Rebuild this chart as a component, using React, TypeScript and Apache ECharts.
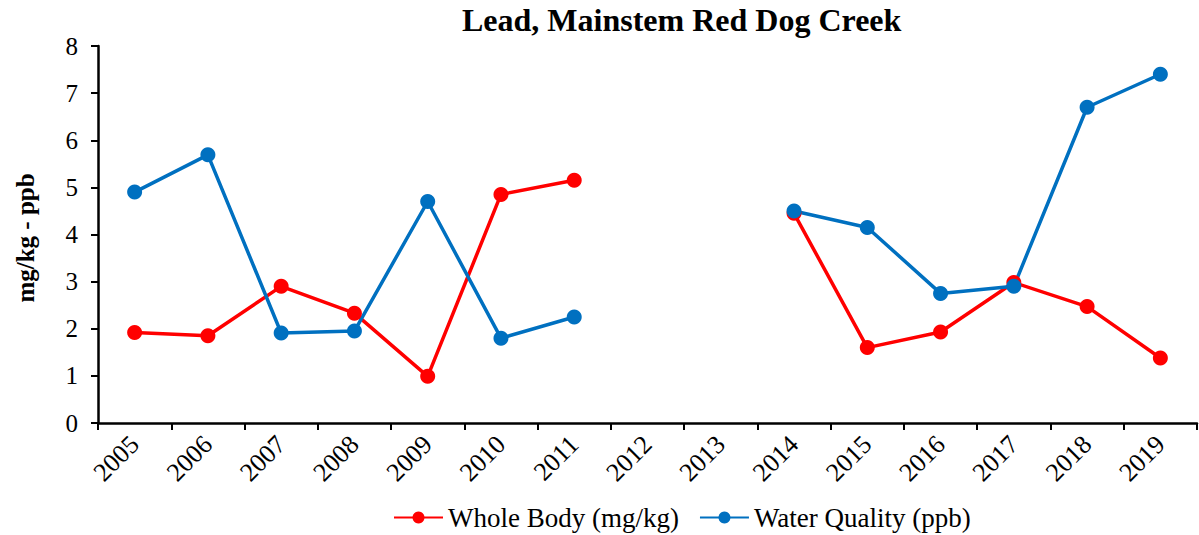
import React, { useEffect, useRef } from "react";
import * as echarts from "echarts";

const years = ["2005", "2006", "2007", "2008", "2009", "2010", "2011", "2012", "2013", "2014", "2015", "2016", "2017", "2018", "2019"];
const wholeBody = [1.92, 1.85, 2.9, 2.33, 0.99, 4.85, 5.15, null, null, 4.45, 1.6, 1.93, 2.98, 2.47, 1.38];
const waterQuality = [4.9, 5.69, 1.91, 1.95, 4.7, 1.8, 2.25, null, null, 4.5, 4.15, 2.75, 2.9, 6.7, 7.4];

const FONT = "'Liberation Serif', 'Times New Roman', serif";

export default function App() {
  const ref = useRef<HTMLDivElement>(null);
  useEffect(() => {
    const chart = echarts.init(ref.current!, null, { renderer: "svg" });
    chart.setOption({
      animation: false,
      backgroundColor: "#ffffff",
      textStyle: { fontFamily: FONT, color: "#000" },
      title: {
        text: "Lead, Mainstem Red Dog Creek",
        left: 457,
        top: -1,
        textStyle: { fontFamily: FONT, fontSize: 32, fontWeight: "bold", color: "#000" },
      },
      legend: {
        left: 388,
        top: 499,
        itemWidth: 49,
        itemHeight: 15,
        itemGap: 20,
        textStyle: { fontFamily: FONT, fontSize: 27, color: "#000" },
        data: ["Whole Body (mg/kg)", "Water Quality (ppb)"],
      },
      // vertical axis title
      graphic: [
        {
          type: "text",
          x: 25,
          y: 238,
          rotation: Math.PI / 2,
          style: {
            text: "mg/kg - ppb",
            fontFamily: FONT,
            fontSize: 25,
            fontWeight: "bold",
            fill: "#000",
            align: "center",
            verticalAlign: "middle",
          },
        },
      ],
      grid: { left: 98, right: 2, top: 46, bottom: 112, containLabel: false },
      xAxis: {
        type: "category",
        data: years,
        boundaryGap: true,
        axisLine: { lineStyle: { color: "#000", width: 2.5 } },
        axisTick: { show: true, length: 7, alignWithLabel: false, lineStyle: { color: "#000", width: 2 } },
        axisLabel: { rotate: 45, fontFamily: FONT, fontSize: 26, color: "#000", margin: 17 },
      },
      yAxis: {
        type: "value",
        min: 0,
        max: 8,
        interval: 1,
        splitLine: { show: false },
        axisLine: { show: true, lineStyle: { color: "#000", width: 2.5 } },
        axisTick: { show: true, length: 7, lineStyle: { color: "#000", width: 2 } },
        axisLabel: { fontFamily: FONT, fontSize: 25, color: "#000", margin: 20 },
      },
      series: [
        {
          name: "Whole Body (mg/kg)",
          type: "line",
          data: wholeBody,
          connectNulls: false,
          symbol: "circle",
          symbolSize: 15,
          color: "#FF0000",
          lineStyle: { width: 3.5, color: "#FF0000" },
          itemStyle: { color: "#FF0000" },
        },
        {
          name: "Water Quality (ppb)",
          type: "line",
          data: waterQuality,
          connectNulls: false,
          symbol: "circle",
          symbolSize: 15,
          color: "#0070C0",
          lineStyle: { width: 3.5, color: "#0070C0" },
          itemStyle: { color: "#0070C0" },
        },
      ],
    });
    return () => chart.dispose();
  }, []);
  return <div ref={ref} style={{ position: "fixed", left: 0, top: 0, width: 1199, height: 535 }} />;
}
